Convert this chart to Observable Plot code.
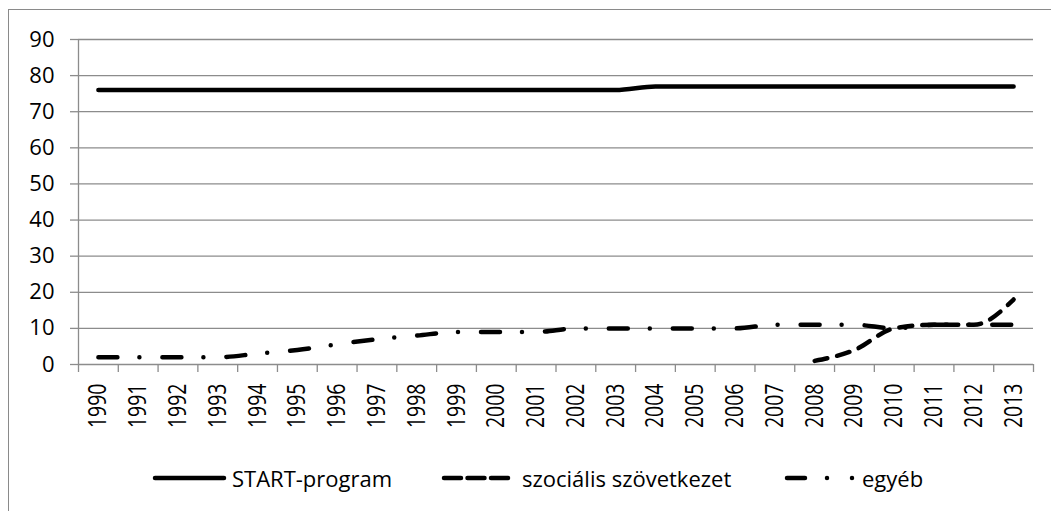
<!DOCTYPE html>
<html>
<head>
<meta charset="utf-8">
<script src="https://cdn.jsdelivr.net/npm/d3@7"></script>
<script src="https://cdn.jsdelivr.net/npm/@observablehq/plot@0.6"></script>
<style>
  html, body { margin: 0; padding: 0; background: #fff; overflow: hidden; }
  #frame { position: absolute; left: 8px; top: 9px; width: 1100px; height: 600px; border: 1px solid #8a8a8a; }
  #chart { position: absolute; left: 0; top: 0; }
  #legend { position: absolute; left: 0; top: 0; width: 1051px; height: 511px; pointer-events: none; }
  .lg { position: absolute; display: flex; align-items: center; font-family: "Open Sans", sans-serif; font-size: 22px; color: #000; white-space: nowrap; }
</style>
</head>
<body>
<div id="frame"></div>
<div id="chart"></div>
<div id="legend"></div>
<script>
const years = [1990,1991,1992,1993,1994,1995,1996,1997,1998,1999,2000,2001,2002,2003,2004,2005,2006,2007,2008,2009,2010,2011,2012,2013];
const startProgram = [76,76,76,76,76,76,76,76,76,76,76,76,76,76,77,77,77,77,77,77,77,77,77,77];
const szocialis = [null,null,null,null,null,null,null,null,null,null,null,null,null,null,null,null,null,null,1,4,10,11,11,18];
const egyeb = [2,2,2,2,3,4,5.6,7,8,9,9,9,10,10,10,10,10,11,11,11,10,11,11,11];
const yTicks = [0,10,20,30,40,50,60,70,80,90];
const seriesNames = ["START-program", "szociális szövetkezet", "egyéb"];
const dashes = [null, "13,10", "19,22,0,23"];

const gray = "#8c8c8c";
const rows = (vals) => years.map((yr, i) => ({year: yr, value: vals[i]}));
const boundaries = [...years.map(y => y - 0.5), years[years.length - 1] + 0.5];

const lineOpts = (i) => ({
  x: "year", y: "value", stroke: "black", strokeWidth: 4.5,
  strokeLinecap: "round", strokeLinejoin: "round",
  strokeDasharray: dashes[i] || undefined, curve: "monotone-x"
});

const chart = Plot.plot({
  width: 1051, height: 440,
  marginLeft: 78, marginRight: 18, marginTop: 39, marginBottom: 76,
  style: {fontFamily: "Open Sans, sans-serif", fontSize: "22px", background: "transparent", color: "black"},
  x: {type: "linear", domain: [years[0] - 0.5, years[years.length - 1] + 0.5]},
  y: {domain: [0, 90]},
  marks: [
    Plot.gridY(yTicks, {stroke: gray, strokeOpacity: 1, strokeWidth: 1.3}),
    Plot.ruleX([years[0] - 0.5], {stroke: gray, strokeWidth: 1.3}),
    Plot.axisY(yTicks, {tickSize: 8, tickPadding: 16, stroke: gray, strokeWidth: 1.3, fill: "black", label: null, fontSize: 22}),
    Plot.axisX(boundaries, {tickSize: 8, tickFormat: () => "", stroke: gray, strokeWidth: 1.3, label: null}),
    Plot.axisX(years, {tickSize: 0, tickPadding: 19, tickRotate: -90, tickFormat: d => String(d), fill: "black", label: null, fontSize: 25}),
    Plot.line(rows(startProgram), lineOpts(0)),
    Plot.line(rows(szocialis), lineOpts(1)),
    Plot.line(rows(egyeb), lineOpts(2))
  ]
});
document.getElementById("chart").appendChild(chart);

// condense the rotated year labels along their reading direction
chart.querySelectorAll('g[aria-label="x-axis tick label"] text').forEach(t => {
  const tr = t.getAttribute("transform") || "";
  t.setAttribute("transform", tr + " scale(0.78,1)");
});

// legend
const legendPos = [
  {sx: 155, sw: 69, tx: 232, dash: null},
  {sx: 444, sw: 64, tx: 522, dash: "17,6.5"},
  {sx: 787, sw: 66, tx: 862, dash: "18,22,0,25,0,100"}
];
const legend = document.getElementById("legend");
seriesNames.forEach((name, i) => {
  const p = legendPos[i];
  const ns = "http://www.w3.org/2000/svg";
  const svg = document.createElementNS(ns, "svg");
  svg.setAttribute("width", p.sw + 8);
  svg.setAttribute("height", 12);
  svg.style.position = "absolute";
  svg.style.left = (p.sx - 4) + "px";
  svg.style.top = (478 - 6) + "px";
  const ln = document.createElementNS(ns, "line");
  ln.setAttribute("x1", 4); ln.setAttribute("x2", 4 + p.sw);
  ln.setAttribute("y1", 6); ln.setAttribute("y2", 6);
  ln.setAttribute("stroke", "black");
  ln.setAttribute("stroke-width", 4.5);
  ln.setAttribute("stroke-linecap", "round");
  if (p.dash) ln.setAttribute("stroke-dasharray", p.dash);
  svg.appendChild(ln);
  legend.appendChild(svg);
  const d = document.createElement("div");
  d.className = "lg";
  d.textContent = name;
  d.style.left = p.tx + "px";
  d.style.top = (478 - 16) + "px";
  d.style.height = "32px";
  legend.appendChild(d);
});
</script>
</body>
</html>
